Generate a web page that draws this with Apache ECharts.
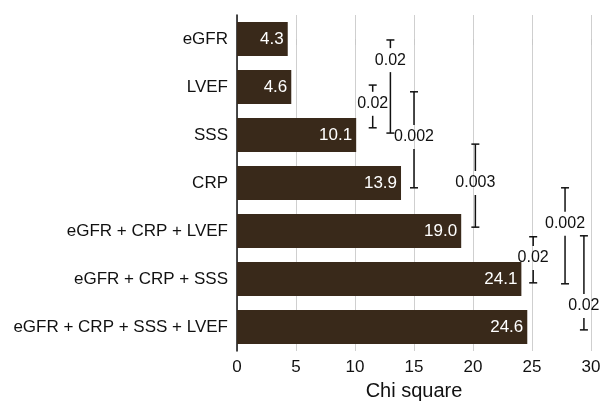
<!DOCTYPE html>
<html>
<head>
<meta charset="utf-8">
<script src="https://cdn.jsdelivr.net/npm/echarts@6/dist/echarts.min.js"></script>
<style>
  html, body { margin: 0; padding: 0; background: #fff; }
  #chart { width: 603px; height: 401px; }
</style>
</head>
<body>
<div id="chart"></div>
<script>
// Predictor models, top to bottom
var categories = ['eGFR', 'LVEF', 'SSS', 'CRP', 'eGFR + CRP + LVEF', 'eGFR + CRP + SSS', 'eGFR + CRP + SSS + LVEF'];
// Chi square of each model
var chiSquare = [4.3, 4.6, 10.1, 13.9, 19.0, 24.1, 24.6];
// Value axis ticks
var xTicks = [0, 5, 10, 15, 20, 25, 30];

// Pairwise comparison brackets: chi-square position, span in row units (0 = first row), label row, p value
var bracketX     = [13.0, 11.5, 15.0, 20.2, 25.1, 27.8, 29.4];
var bracketTop   = [0.02, 0.96, 1.10, 2.19, 4.12, 3.10, 4.10];
var bracketEnd   = [1.96, 1.85, 3.10, 3.92, 5.08, 5.10, 6.06];
var bracketLabel = [0.44, 1.35, 2.04, 3.00, 4.56, 3.85, 5.56];
var bracketP     = ['0.02', '0.02', '0.002', '0.003', '0.02', '0.002', '0.02'];

var bracketData = bracketX.map(function (x, i) {
  return [x, bracketTop[i], bracketEnd[i], bracketLabel[i], bracketP[i]];
});

var FONT = '"Liberation Sans", Arial, Helvetica, sans-serif';
var chart = echarts.init(document.getElementById('chart'), null, { renderer: 'canvas' });

function renderBracket(params, api) {
  var x = api.value(0);
  var top = api.coord([x, api.value(1)]);
  var bot = api.coord([x, api.value(2)]);
  var mid = api.coord([x, api.value(3)]);
  var px = top[0];
  var gap = 12, cap = 4;
  var style = { stroke: '#111', lineWidth: 1.5 };
  var children = [
    { type: 'line', shape: { x1: px - cap, y1: top[1], x2: px + cap, y2: top[1] }, style: style },
    { type: 'line', shape: { x1: px - cap, y1: bot[1], x2: px + cap, y2: bot[1] }, style: style },
    { type: 'line', shape: { x1: px, y1: top[1], x2: px, y2: Math.max(top[1], mid[1] - gap) }, style: style },
    { type: 'line', shape: { x1: px, y1: Math.min(bot[1], mid[1] + gap), x2: px, y2: bot[1] }, style: style },
    { type: 'text', x: px, y: mid[1], style: {
        text: api.value(4), fill: '#111', font: '16px ' + FONT,
        align: 'center', verticalAlign: 'middle' } }
  ];
  return { type: 'group', children: children };
}

chart.setOption({
  animation: false,
  backgroundColor: '#fff',
  grid: { left: 237, right: 12, top: 15, bottom: 50, containLabel: false, outerBoundsMode: 'none' },
  xAxis: {
    type: 'value', min: xTicks[0], max: xTicks[xTicks.length - 1], interval: 5,
    name: 'Chi square', nameLocation: 'middle', nameGap: 30,
    nameTextStyle: { fontFamily: FONT, fontSize: 20, color: '#111' },
    axisLine: { show: false },
    axisTick: { show: true, length: 6, lineStyle: { color: '#c8c8c8' } },
    axisLabel: { fontFamily: FONT, fontSize: 17, color: '#111', margin: 8 },
    splitLine: { show: true, lineStyle: { color: '#cfcfcf', width: 1 } }
  },
  yAxis: [{
    type: 'category', data: categories, inverse: true,
    axisLine: { show: true, lineStyle: { color: '#111', width: 1.5 } },
    axisTick: { show: false },
    axisLabel: { fontFamily: FONT, fontSize: 17, color: '#111', margin: 9 }
  }, {
    type: 'value', min: -0.5, max: categories.length - 0.5, inverse: true, show: false
  }],
  series: [{
    type: 'bar', data: chiSquare, barCategoryGap: '29%',
    itemStyle: { color: '#39291a' },
    label: {
      show: true, position: 'insideRight', distance: 4,
      fontFamily: FONT, fontSize: 17, color: '#fff',
      formatter: function (p) { return p.value.toFixed(1); }
    }
  }, {
    type: 'custom', yAxisIndex: 1, data: bracketData,
    renderItem: renderBracket, clip: false
  }]
});
</script>
</body>
</html>
